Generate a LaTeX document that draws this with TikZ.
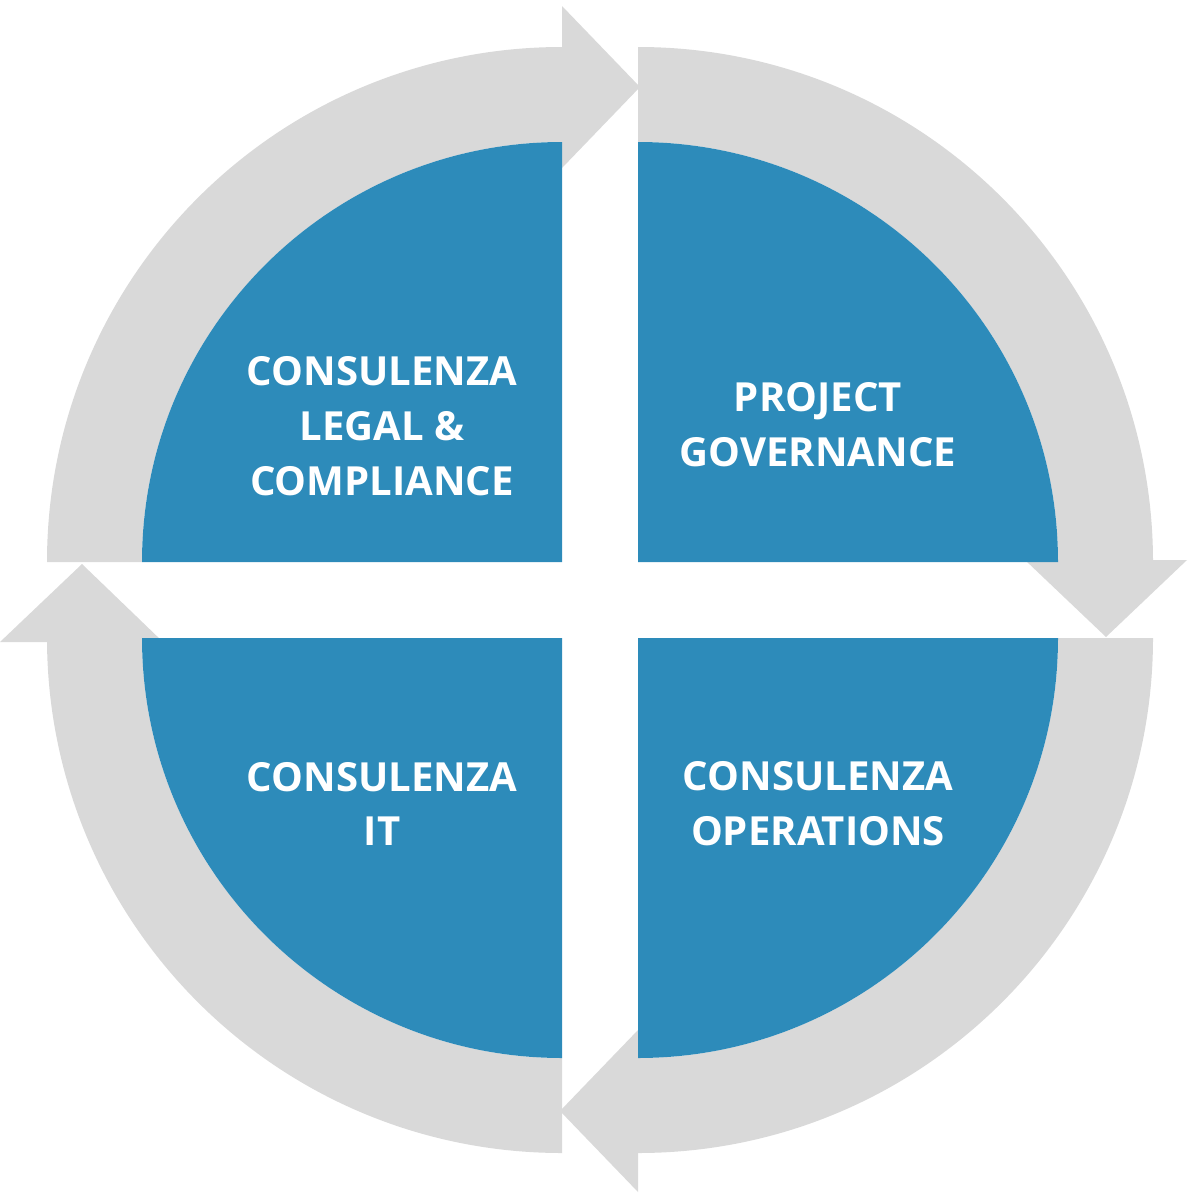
\documentclass[tikz,border=0pt]{standalone}
\usepackage{fontspec}
\setmainfont{Open Sans}
\definecolor{quadblue}{HTML}{2D8BBA}
\definecolor{ringgray}{HTML}{D9D9D9}

\begin{document}
\begin{tikzpicture}[x=0.01cm, y=-0.01cm, every node/.style={font=\fontsize{11.4}{15.6}\selectfont\bfseries, text=white, align=center}]
    \useasboundingbox (0,0) rectangle (1200,1200);

    % Ring quarters
    \fill[ringgray, shift={(562,562)}] (180:515) arc[start angle=180, end angle=270, radius=515] -- (270:420) arc[start angle=270, end angle=180, radius=420] -- cycle;
    \fill[ringgray, shift={(638,562)}] (270:515) arc[start angle=270, end angle=360, radius=515] -- (0:420) arc[start angle=360, end angle=270, radius=420] -- cycle;
    \fill[ringgray, shift={(638,638)}] (0:515) arc[start angle=0, end angle=90, radius=515] -- (90:420) arc[start angle=90, end angle=0, radius=420] -- cycle;
    \fill[ringgray, shift={(562,638)}] (90:515) arc[start angle=90, end angle=180, radius=515] -- (180:420) arc[start angle=180, end angle=90, radius=420] -- cycle;

    % Arrow heads
    \fill[ringgray] (562,6) -- (640,87) -- (562,168) -- cycle;
    \fill[ringgray] (1025,560) -- (1106,637) -- (1187,560) -- cycle;
    \fill[ringgray] (638,1030) -- (560,1111) -- (638,1192) -- cycle;
    \fill[ringgray] (0,642) -- (82,564) -- (163,642) -- cycle;

    % Quadrants
    \fill[quadblue] (562,562) -- ++(180:420) arc[start angle=180, end angle=270, radius=420] -- cycle;
    \fill[quadblue] (638,562) -- ++(270:420) arc[start angle=270, end angle=360, radius=420] -- cycle;
    \fill[quadblue] (638,638) -- ++(0:420) arc[start angle=0, end angle=90, radius=420] -- cycle;
    \fill[quadblue] (562,638) -- ++(90:420) arc[start angle=90, end angle=180, radius=420] -- cycle;

    % Labels
    \node (legal) at (382,426) {CONSULENZA\\LEGAL \&\\COMPLIANCE};
    \node (governance) at (818,425) {PROJECT\\GOVERNANCE};
    \node (operations) at (818,804) {CONSULENZA\\OPERATIONS};
    \node (it) at (382,804) {CONSULENZA\\IT};
\end{tikzpicture}
\end{document}
